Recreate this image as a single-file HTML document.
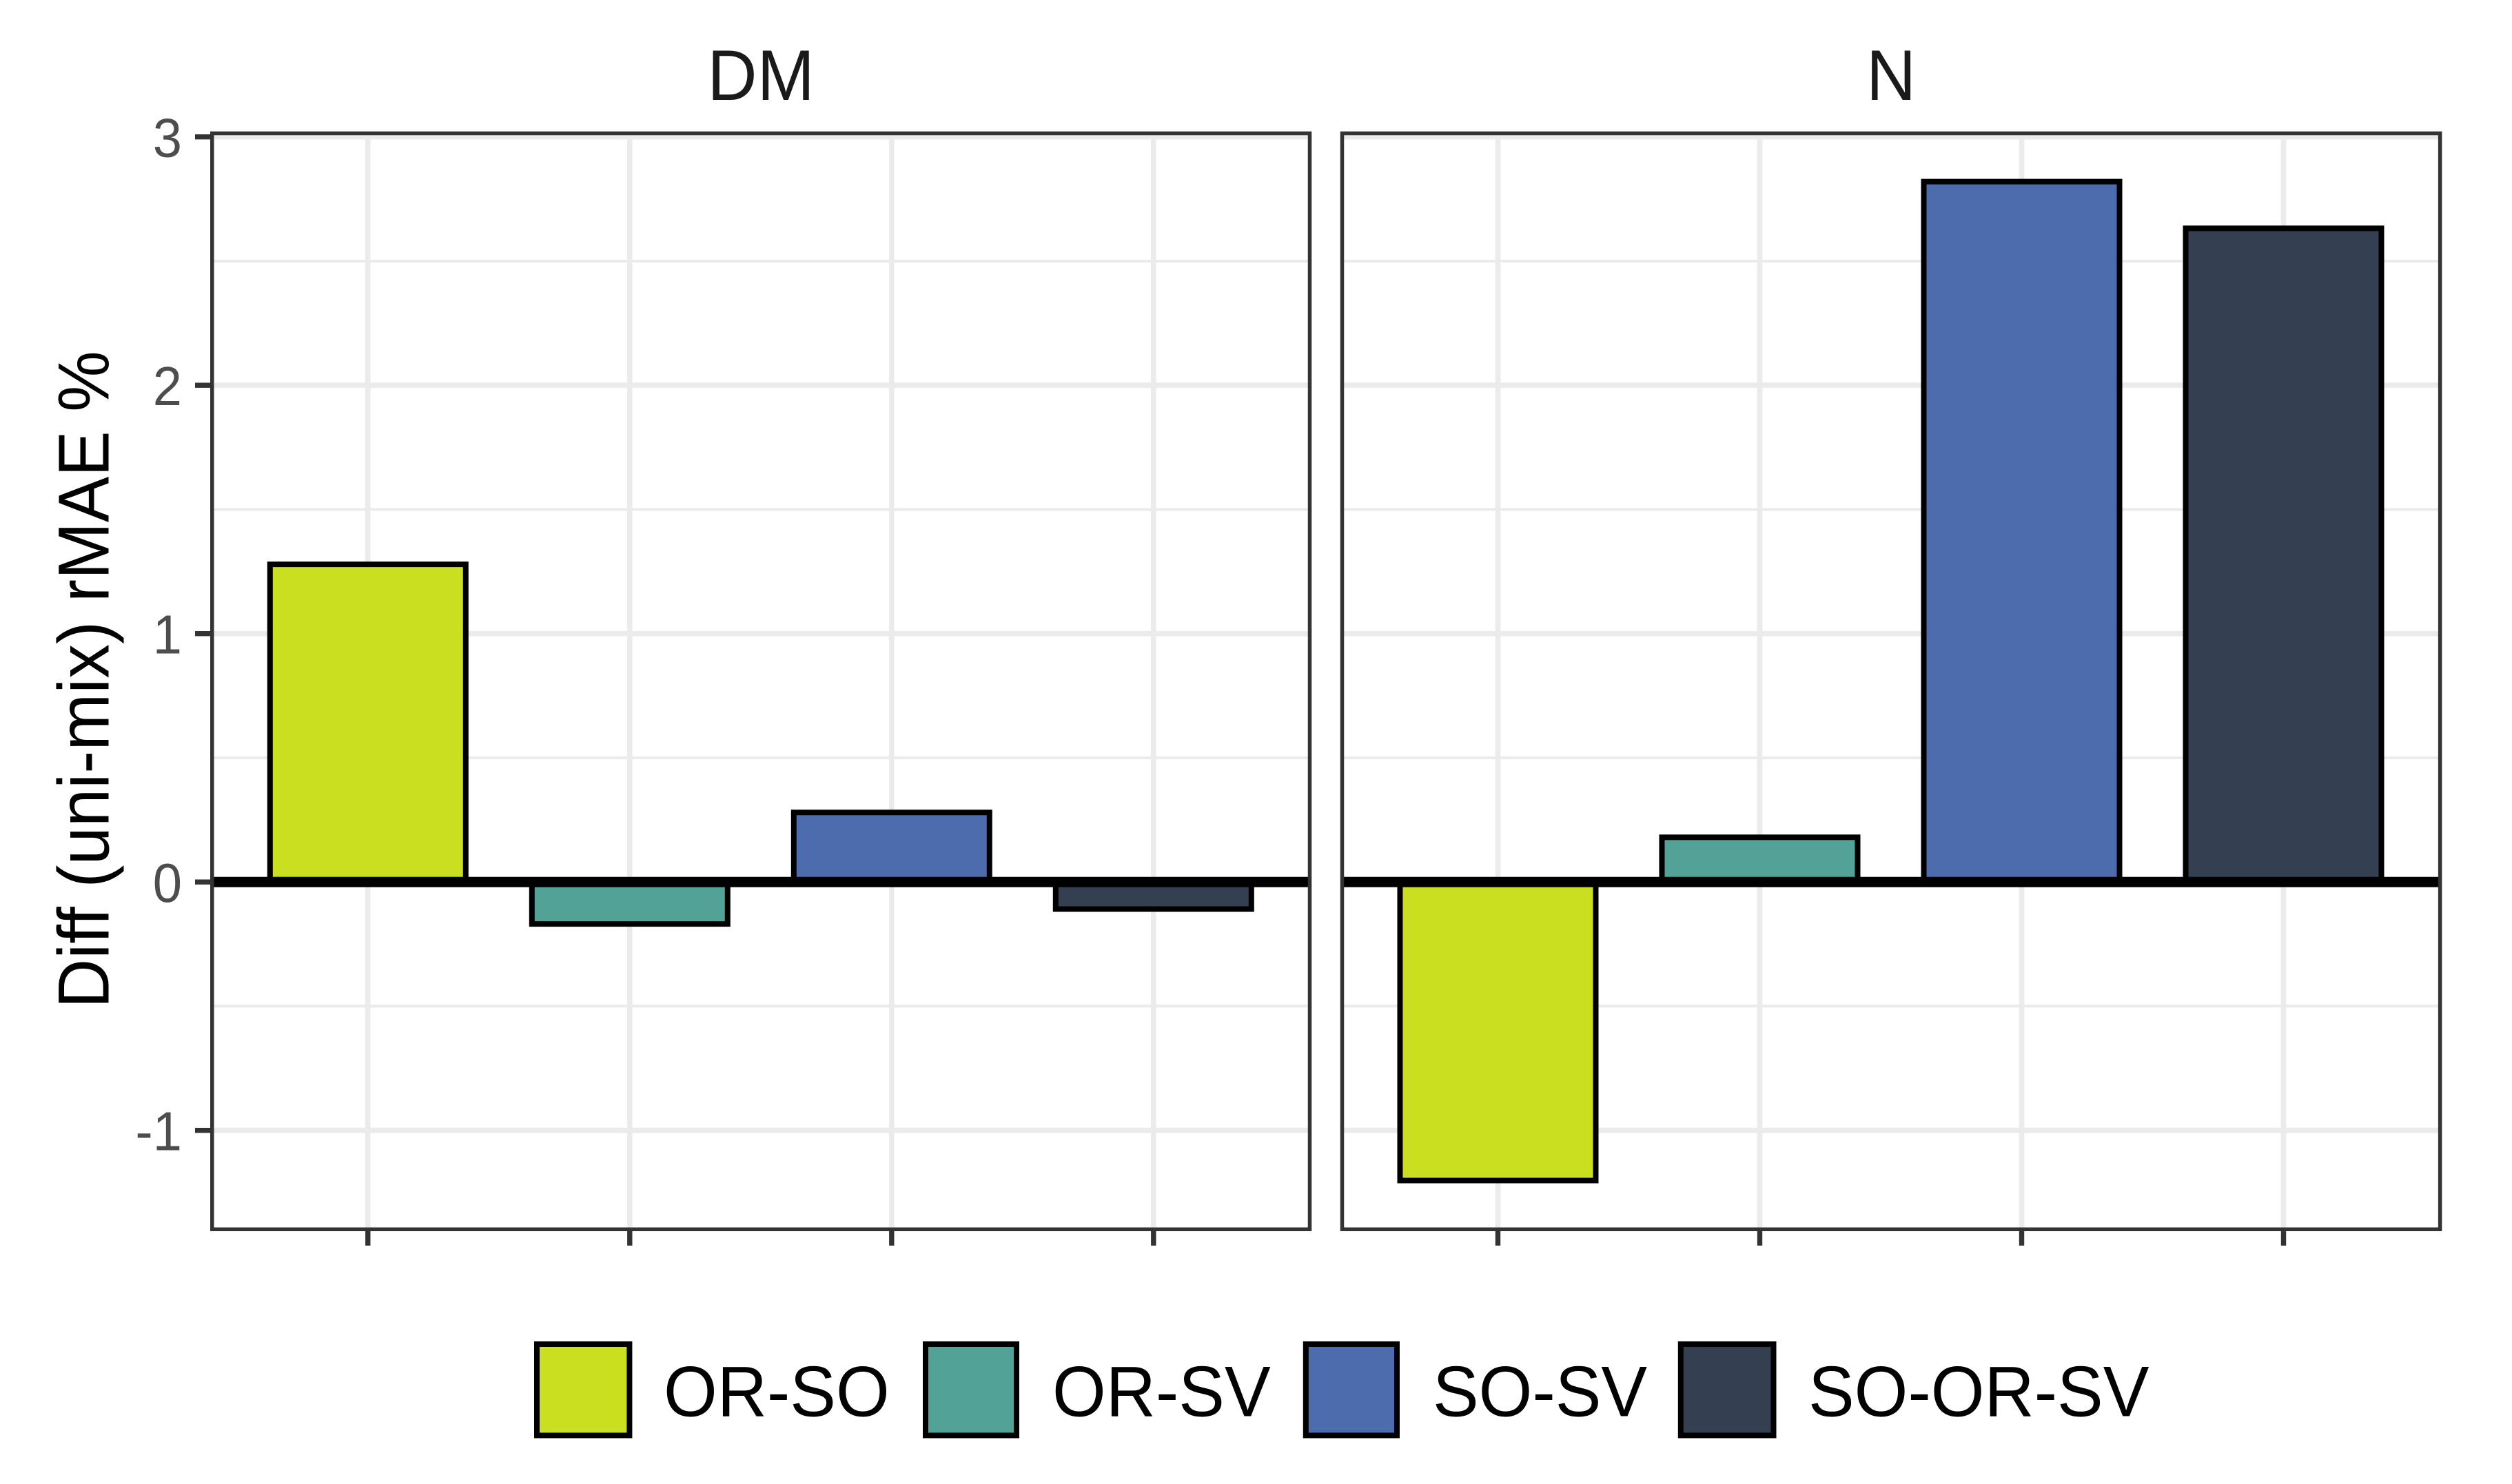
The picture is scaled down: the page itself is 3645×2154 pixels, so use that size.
<!DOCTYPE html>
<html lang="en">
<head>
<meta charset="utf-8">
<title>Diff (uni-mix) rMAE %</title>
<style>
html,body{margin:0;padding:0;background:#fff;width:3645px;height:2154px;overflow:hidden}
svg{display:block;position:absolute;left:0;top:0}
text{font-family:"Liberation Sans",Arial,sans-serif}
</style>
</head>
<body>
<svg id="chart" xmlns="http://www.w3.org/2000/svg" width="3645" height="2154" viewBox="0 0 3645 2154">
  <rect x="0" y="0" width="3645" height="2154" fill="#ffffff"/>
  <g id="panels"></g>
  <text transform="translate(157.7 986.5) rotate(-90) scale(0.995 1.05)" text-anchor="middle" font-size="100" fill="#000000">Diff (uni-mix) rMAE %</text>
  <g>
    <rect x="779" y="1951" width="134.4" height="132.5" fill="#cbdf21" stroke="#000" stroke-width="8"/>
    <text transform="translate(963 2055.7) scale(1 1.04)" font-size="100" fill="#000">OR-SO</text>
    <rect x="1343" y="1951" width="132" height="132.5" fill="#52a298" stroke="#000" stroke-width="8"/>
    <text transform="translate(1527 2055.7) scale(1 1.04)" font-size="100" fill="#000">OR-SV</text>
    <rect x="1894.8" y="1951" width="132.2" height="132.5" fill="#4c6cad" stroke="#000" stroke-width="8"/>
    <text transform="translate(2079 2055.7) scale(1 1.04)" font-size="100" fill="#000">SO-SV</text>
    <rect x="2438.8" y="1951" width="134.7" height="132.5" fill="#343f52" stroke="#000" stroke-width="8"/>
    <text transform="translate(2624 2055.7) scale(1 1.04)" font-size="100" fill="#000">SO-OR-SV</text>
  </g>
</svg>
<script>
const categories = ['OR-SO', 'OR-SV', 'SO-SV', 'SO-OR-SV'];
const facetNames = ['DM', 'N'];
const dmValues = [1.279, -0.169, 0.28, -0.109];
const nValues = [-1.202, 0.18, 2.82, 2.632];
const yMajorTicks = [3, 2, 1, 0, -1];
const yTickLabels = ['3', '2', '1', '0', '-1'];
const yMinorTicks = [2.5, 1.5, 0.5, -0.5];

const NS = 'http://www.w3.org/2000/svg';
const PANEL_TOP = 193.5, PANEL_BOTTOM = 1784.3;
const Y_MIN = -1.3984, Y_MAX = 3.0145;
const STEP = 380, BAR_W = 284, X_PAD = 226;
const fills = ['#cbdf21', '#52a298', '#4c6cad', '#343f52'];
const layouts = [{ left: 307.8, right: 1900.5 }, { left: 1947.5, right: 3540.6 }];
const facetValues = [dmValues, nValues];

function y(v) {
  return PANEL_BOTTOM - (v - Y_MIN) / (Y_MAX - Y_MIN) * (PANEL_BOTTOM - PANEL_TOP);
}
function x(left, i) {
  return left + X_PAD + STEP * i;
}
function make(parent, tag, attrs) {
  const el = document.createElementNS(NS, tag);
  for (const k in attrs) el.setAttribute(k, attrs[k]);
  parent.appendChild(el);
  return el;
}

const root = document.getElementById('panels');

facetNames.forEach(function (facet, p) {
  const L = layouts[p];
  const key = facet.toLowerCase();
  const values = facetValues[p];
  const g = make(root, 'g', {});
  
  

  const clipId = 'clip-' + key;
  const defs = make(g, 'defs', {});
  const clip = make(defs, 'clipPath', { id: clipId });
  make(clip, 'rect', { x: L.left, y: PANEL_TOP, width: L.right - L.left, height: PANEL_BOTTOM - PANEL_TOP });

  const inner = make(g, 'g', { 'clip-path': 'url(#' + clipId + ')' });

  yMinorTicks.forEach(function (v) {
    const line = make(inner, 'line', { x1: L.left, x2: L.right, y1: y(v), y2: y(v), stroke: '#ebebeb', 'stroke-width': 4 });
    
    
  });
  yMajorTicks.forEach(function (v) {
    const line = make(inner, 'line', { x1: L.left, x2: L.right, y1: y(v), y2: y(v), stroke: '#ebebeb', 'stroke-width': 7.6 });
    
    
  });
  categories.forEach(function (c, i) {
    const line = make(inner, 'line', { x1: x(L.left, i), x2: x(L.left, i), y1: PANEL_TOP, y2: PANEL_BOTTOM, stroke: '#ebebeb', 'stroke-width': 7.6 });
    
    
  });

  values.forEach(function (v, i) {
    const top = Math.min(y(v), y(0));
    const h = Math.abs(y(v) - y(0));
    const bar = make(inner, 'rect', {
      x: x(L.left, i) - BAR_W / 2, y: top, width: BAR_W, height: h,
      fill: fills[i], stroke: '#000000', 'stroke-width': 8
    });
    
    
  });

  const zero = make(inner, 'line', { x1: L.left, x2: L.right, y1: y(0), y2: y(0), stroke: '#000000', 'stroke-width': 15 });
  
  

  const border = make(g, 'rect', { x: L.left, y: PANEL_TOP, width: L.right - L.left, height: PANEL_BOTTOM - PANEL_TOP, fill: 'none', stroke: '#333333', 'stroke-width': 5.5 });
  
  

  categories.forEach(function (c, i) {
    const tick = make(g, 'line', { x1: x(L.left, i), x2: x(L.left, i), y1: PANEL_BOTTOM, y2: 1808, stroke: '#333333', 'stroke-width': 7.4 });
    
    
  });

  const title = make(g, 'text', { transform: 'translate(' + (L.left + L.right) / 2 + ' 145) scale(1 1.04)', 'text-anchor': 'middle', 'font-size': 100, fill: '#1a1a1a' });
  title.textContent = facet;
  
  

  if (p === 0) {
    yMajorTicks.forEach(function (v, i) {
      const tick = make(g, 'line', { x1: 283, x2: L.left, y1: y(v), y2: y(v), stroke: '#333333', 'stroke-width': 7.4 });
      
      
      const label = make(g, 'text', { transform: 'translate(264 ' + (y(v) + 29) + ') scale(1 1.05)', 'text-anchor': 'end', 'font-size': 76, fill: '#4d4d4d' });
      label.textContent = yTickLabels[i];
      
      
    });
  }
});
</script>
</body>
</html>
